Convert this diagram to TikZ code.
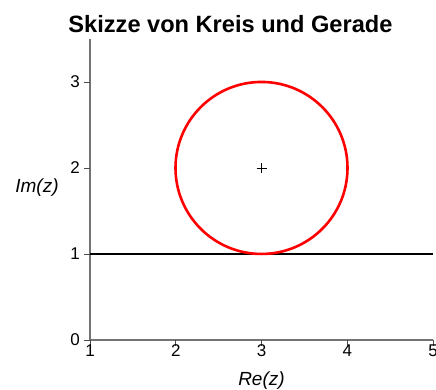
\documentclass[tikz,border=0pt]{standalone}
\usepackage{fontspec}
\setmainfont{Liberation Sans}
\usetikzlibrary{positioning}

\begin{document}
\begin{tikzpicture}[x=85.75pt, y=86pt,
    axisline/.style={draw=black!55, line width=1.6pt},
    ticklabel/.style={font=\fontsize{17}{17}\selectfont, inner sep=0pt},
    axislabel/.style={font=\fontsize{19}{19}\selectfont\itshape, inner sep=0pt}]
  % page size of the plot
  \useasboundingbox (-0.04956,-0.5814) rectangle (5.035,3.953);
  \def\tl{6pt}   % tick length

  % title
  \node[font=\fontsize{23.6}{23.6}\selectfont\bfseries, anchor=base, inner sep=0pt] (titel) at (2.638,3.58) {Skizze von Kreis und Gerade};

  % axes
  \coordinate (o) at (1,0);
  \coordinate (xend) at (5,0);
  \coordinate (yend) at (1,3.5);
  \draw[axisline] (yend) -- (o) -- (xend);

  % ticks on Re axis
  \foreach \x in {1,...,5} {
    \coordinate (xt\x) at (\x,0);
    \draw[black!70, line width=0.9pt] (xt\x) -- ++(0,-\tl);
    \node[ticklabel, anchor=north] (xl\x) at ([yshift=-4.5pt]xt\x) {\x};
  }
  % ticks on Im axis
  \foreach \y in {0,...,3} {
    \coordinate (yt\y) at (1,\y);
    \draw[black!70, line width=0.9pt] (yt\y) -- ++(-\tl,0);
    \node[ticklabel, anchor=east] (yl\y) at ([xshift=-10pt]yt\y) {\y};
  }

  % axis labels
  \node[axislabel, anchor=base] (re) at (3,-0.535) {Re(z)};
  \node[axislabel] (im) at (0.382,1.77) {Im(z)};

  % the line Im(z)=1
  \coordinate (g1) at (1,1);
  \coordinate (g2) at (5,1);
  \draw[black, line width=2pt] (g1) -- (g2);

  % circle around 3+2i with radius 1
  \node[circle, draw=red, line width=2.6pt, minimum size=172pt, inner sep=0pt] (kreis) at (3,2) {};
  \draw[black, line width=0.7pt] ([xshift=-5pt]kreis.center) -- ([xshift=5pt]kreis.center);
  \draw[black, line width=0.7pt] ([yshift=-5pt]kreis.center) -- ([yshift=5pt]kreis.center);
\end{tikzpicture}
\end{document}
